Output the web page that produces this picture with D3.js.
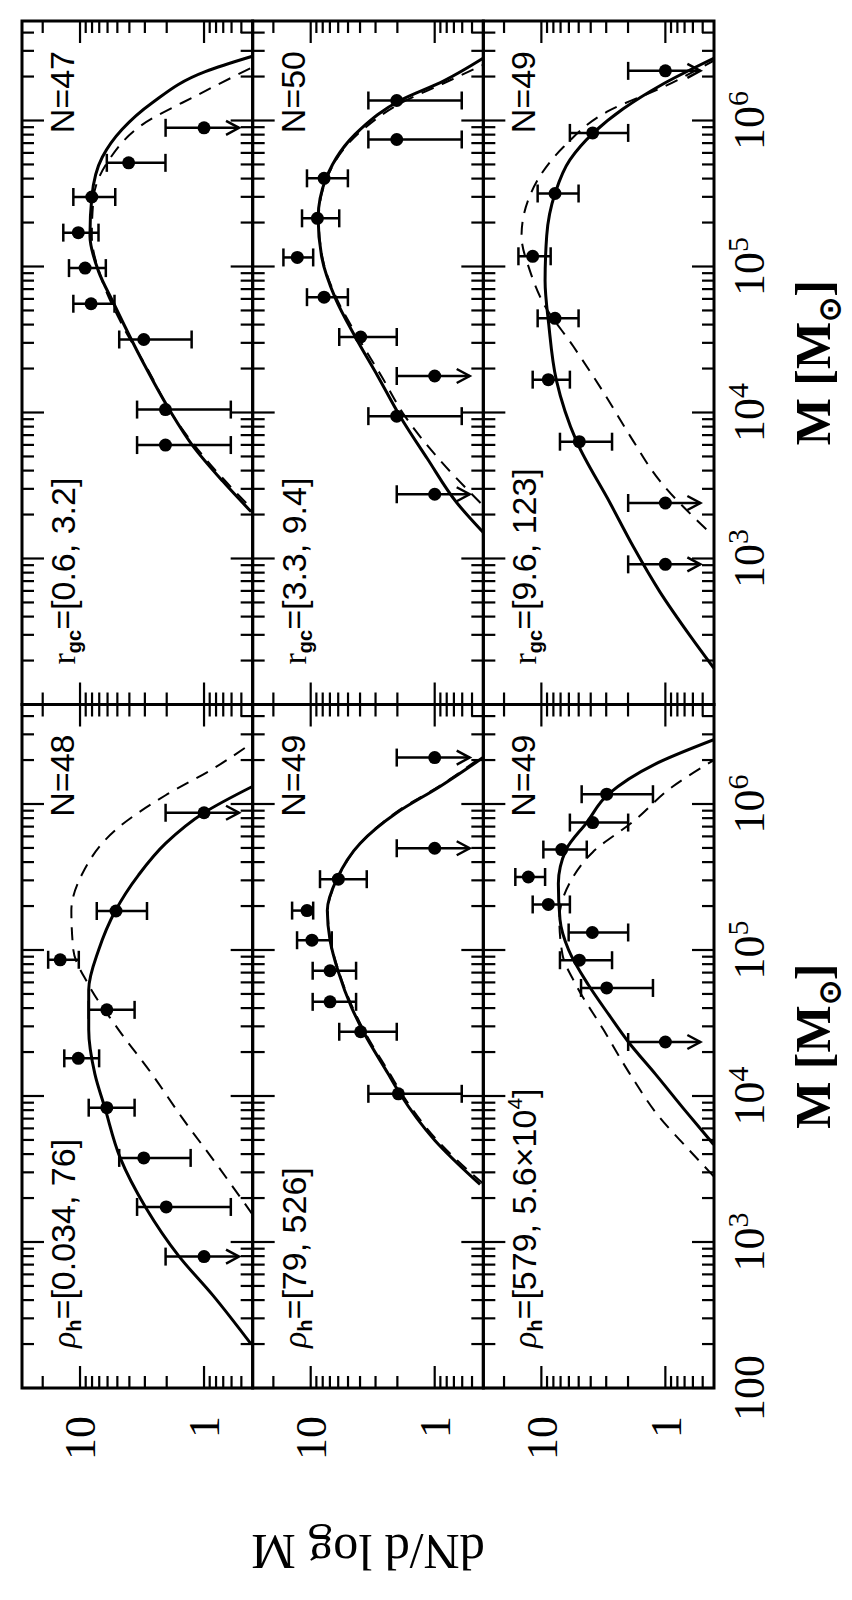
<!DOCTYPE html>
<html><head><meta charset="utf-8">
<script src="https://cdn.jsdelivr.net/npm/d3@7"></script>
<style>body{margin:0;background:#fff}</style>
</head><body>
<svg id="c" width="852" height="1600"></svg>
<script>
// ---- data (log10 M, log10 dN/dlogM) ----
// points: [logM, logVal, logLo, logHi, upperLimit]
const ptsRho1 = [[5.94,0,0.31,null,1],[5.267,0.71,0.46,0.865,0],[4.933,1.16,1.01,1.257,0],[4.59,0.784,0.56,0.93,0],[4.258,1.014,0.846,1.127,0],[3.92,0.784,0.56,0.93,0],[3.576,0.486,0.108,0.684,0],[3.24,0.305,-0.216,0.54,0],[2.90,0,0.31,null,1]];
const solidRho1 = [[6.12,-0.39],[5.94,0],[5.73,0.31],[5.515,0.527],[5.267,0.716],[5.0,0.85],[4.727,0.93],[4.455,0.93],[4.15,0.88],[3.92,0.80],[3.576,0.676],[3.24,0.473],[2.90,0.20],[2.636,-0.07],[2.30,-0.38]];
const dashRho1 = [[6.42,-0.39],[6.24,-0.07],[6.06,0.31],[5.82,0.716],[5.515,0.986],[5.27,1.07],[5.0,1.054],[4.76,0.93],[4.455,0.69],[4.15,0.42],[3.85,0.176],[3.545,-0.09],[3.19,-0.39]];

const ptsRho2 = [[6.318,0,0.306,null,1],[5.697,0,0.306,null,1],[5.485,0.777,0.548,0.925,0],[5.27,1.03,0.98,1.15,0],[5.067,0.99,0.83,1.11,0],[4.858,0.844,0.634,0.984,0],[4.645,0.844,0.634,0.984,0],[4.44,0.597,0.306,0.77,0],[4.015,0.293,-0.218,0.535,0]];
const solidRho2 = [[6.318,-0.39],[6.12,-0.043],[5.94,0.306],[5.73,0.602],[5.485,0.79],[5.27,0.866],[5.067,0.844],[4.85,0.777],[4.606,0.67],[4.44,0.575],[4.15,0.374],[4.015,0.28],[3.697,0.0],[3.394,-0.366]];
const dashRho2 = [[6.33,-0.39],[6.13,-0.05],[5.95,0.30],[5.73,0.60],[5.485,0.785],[5.27,0.862],[5.067,0.842],[4.85,0.772],[4.606,0.662],[4.44,0.565],[4.15,0.36],[4.015,0.265],[3.697,-0.02],[3.40,-0.39]];

const ptsRho3 = [[6.067,0.473,0.10,0.675,0],[5.873,0.586,0.30,0.77,0],[5.688,0.836,0.634,0.984,0],[5.50,1.105,0.97,1.21,0],[5.312,0.944,0.77,1.07,0],[5.12,0.589,0.30,0.78,0],[4.93,0.694,0.43,0.85,0],[4.74,0.473,0.10,0.68,0],[4.37,0,0.30,null,1]];
const solidRho3 = [[6.44,-0.39],[6.27,0.09],[6.067,0.46],[5.873,0.634],[5.688,0.80],[5.455,0.863],[5.21,0.85],[5.0,0.78],[4.76,0.62],[4.55,0.45],[4.37,0.298],[4.15,0.08],[3.9,-0.16],[3.667,-0.39]];
const dashRho3 = [[6.30,-0.39],[6.12,-0.06],[5.88,0.26],[5.67,0.586],[5.455,0.774],[5.21,0.855],[4.97,0.83],[4.76,0.72],[4.455,0.5],[4.15,0.285],[3.85,0.043],[3.65,-0.17],[3.45,-0.39]];

const ptsRgc1 = [[5.95,0,0.31,null,1],[5.71,0.608,0.311,0.784,0],[5.476,0.905,0.716,1.054,0],[5.232,1.014,0.851,1.135,0],[4.989,0.959,0.792,1.089,0],[4.745,0.911,0.722,1.054,0],[4.50,0.486,0.100,0.684,0],[4.02,0.311,-0.216,0.54,0],[3.777,0.311,-0.216,0.54,0]];
const solidRgc1 = [[6.44,-0.39],[6.335,-0.01],[6.12,0.42],[5.94,0.66],[5.75,0.82],[5.476,0.905],[5.21,0.92],[4.965,0.85],[4.75,0.73],[4.49,0.58],[4.325,0.48],[4.02,0.28],[3.777,0.095],[3.53,-0.15],[3.32,-0.38]];
const dashRgc1 = [[6.365,-0.39],[6.18,0.04],[5.97,0.5],[5.726,0.77],[5.476,0.89],[5.21,0.905],[4.90,0.82],[4.60,0.66],[4.29,0.45],[3.99,0.26],[3.685,-0.01],[3.38,-0.34]];

const ptsRgc2 = [[6.137,0.306,-0.218,0.535,0],[5.87,0.306,-0.218,0.535,0],[5.604,0.892,0.70,1.03,0],[5.33,0.946,0.77,1.07,0],[5.062,1.108,0.98,1.22,0],[4.79,0.892,0.70,1.03,0],[4.517,0.597,0.306,0.77,0],[4.25,0,0.306,null,1],[3.975,0.306,-0.218,0.535,0],[3.44,0,0.306,null,1]];
const solidRgc2 = [[6.426,-0.39],[6.27,-0.07],[6.137,0.28],[5.94,0.60],[5.604,0.876],[5.33,0.94],[5.06,0.91],[4.78,0.80],[4.517,0.64],[4.25,0.46],[3.975,0.28],[3.685,0.06],[3.38,-0.18],[3.18,-0.39]];
const dashRgc2 = [[6.38,-0.39],[6.25,-0.06],[6.12,0.27],[5.93,0.59],[5.604,0.87],[5.33,0.935],[5.06,0.905],[4.78,0.79],[4.517,0.62],[4.25,0.43],[3.975,0.24],[3.685,-0.03],[3.38,-0.37]];

const ptsRgc3 = [[6.34,0,0.30,null,1],[5.915,0.586,0.30,0.77,0],[5.50,0.89,0.70,1.03,0],[5.07,1.07,0.925,1.185,0],[4.645,0.89,0.70,1.03,0],[4.225,0.944,0.77,1.07,0],[3.80,0.694,0.43,0.85,0],[3.38,0,0.30,null,1],[2.96,0,0.30,null,1]];
const solidRgc3 = [[6.426,-0.39],[6.24,0.04],[6.08,0.34],[5.915,0.58],[5.73,0.77],[5.50,0.89],[5.21,0.957],[4.90,0.97],[4.6,0.94],[4.225,0.88],[3.80,0.715],[3.38,0.446],[3.08,0.258],[2.77,0.043],[2.47,-0.2],[2.25,-0.39]];
const dashRgc3 = [[6.41,-0.39],[6.24,-0.01],[6.06,0.47],[5.82,0.82],[5.51,1.08],[5.21,1.16],[4.965,1.09],[4.75,0.985],[4.45,0.74],[4.14,0.5],[3.84,0.285],[3.53,0.043],[3.2,-0.33]];

const nLabels = [[48,49,49],[47,50,49]];
const rhoRanges = ["[0.034, 76]","[79, 526]","[579, 5.6×10|4|]"];
const rgcRanges = ["[0.6, 3.2]","[3.3, 9.4]","[9.6, 123]"];
const massTickExps = [[2,3,4,5,6],[3,4,5,6]];
const yTickLabels = [[1,"10"],[0,"1"]];

const panels = [
 {c:0,r:0,pts:ptsRho1,solid:solidRho1,dash:dashRho1},
 {c:0,r:1,pts:ptsRho2,solid:solidRho2,dash:dashRho2},
 {c:0,r:2,pts:ptsRho3,solid:solidRho3,dash:dashRho3},
 {c:1,r:0,pts:ptsRgc1,solid:solidRgc1,dash:dashRgc1},
 {c:1,r:1,pts:ptsRgc2,solid:solidRgc2,dash:dashRgc2},
 {c:1,r:2,pts:ptsRgc3,solid:solidRgc3,dash:dashRgc3}];

// ---- layout ----
const W=1367, H=692, colW=W/2, rowH=H/3, decX=146, decY=124, yTop=1.468;
const svg=d3.select("#c");
svg.append("rect").attr("width",852).attr("height",1600).attr("fill","#fff");
const g=svg.append("g").attr("transform","translate(22,1388) rotate(-90)");
const serif="'Liberation Serif','Times New Roman',serif", sans="'Liberation Sans',Arial,sans-serif";
const defs=svg.append("defs");

panels.forEach((p,i)=>{
  const x=d3.scaleLinear().domain([2,2+colW/decX]).range([p.c*colW,(p.c+1)*colW]);
  const y=d3.scaleLinear().domain([yTop,yTop-rowH/decY]).range([p.r*rowH,(p.r+1)*rowH]);
  const x0=p.c*colW,x1=x0+colW,y0=p.r*rowH,y1=y0+rowH;
  defs.append("clipPath").attr("id","cp"+i).append("rect").attr("x",x0).attr("y",y0).attr("width",colW).attr("height",rowH);
  const pg=g.append("g");
  const tk=pg.append("g").attr("stroke","#000").attr("stroke-width",2.2);
  for(let d=2;d<=6;d++)for(let k=1;k<=9;k++){
    const lm=d+Math.log10(k); if(lm<2||lm>x.domain()[1])continue;
    const L=k===1?22:12, xx=x(lm);
    tk.append("line").attr("x1",xx).attr("x2",xx).attr("y1",y0).attr("y2",y0+L);
    tk.append("line").attr("x1",xx).attr("x2",xx).attr("y1",y1).attr("y2",y1-L);
  }
  for(let e=-1;e<=1;e++)for(let k=1;k<=9;k++){
    const lv=e+Math.log10(k); if(lv>yTop||lv<y.domain()[1])continue;
    const L=k===1?22:12, yy=y(lv);
    tk.append("line").attr("y1",yy).attr("y2",yy).attr("x1",x0).attr("x2",x0+L);
    tk.append("line").attr("y1",yy).attr("y2",yy).attr("x1",x1).attr("x2",x1-L);
  }
  pg.append("rect").attr("x",x0).attr("y",y0).attr("width",colW).attr("height",rowH).attr("fill","none").attr("stroke","#000").attr("stroke-width",3);
  const line=d3.line().x(d=>x(d[0])).y(d=>y(d[1])).curve(d3.curveMonotoneX);
  const cg=pg.append("g").attr("clip-path","url(#cp"+i+")").attr("fill","none").attr("stroke","#000");
  const asc=a=>a.slice().sort((m,n)=>m[0]-n[0]);
  cg.append("path").attr("d",line(asc(p.dash))).attr("stroke-width",2).attr("stroke-dasharray","13,9");
  cg.append("path").attr("d",line(asc(p.solid))).attr("stroke-width",3);
  const eg=pg.append("g").attr("stroke","#000").attr("stroke-width",2.5);
  p.pts.forEach(d=>{
    const xx=x(d[0]),yy=y(d[1]),cap=9;
    if(d[4]){
      eg.append("line").attr("x1",xx).attr("x2",xx).attr("y1",y(d[2])).attr("y2",yy);
      eg.append("line").attr("x1",xx-cap).attr("x2",xx+cap).attr("y1",y(d[2])).attr("y2",y(d[2]));
      const ye=yy+35;
      eg.append("line").attr("x1",xx).attr("x2",xx).attr("y1",yy).attr("y2",ye);
      eg.append("path").attr("fill","none").attr("d",`M${xx-7},${ye-13}L${xx},${ye}L${xx+7},${ye-13}`);
    } else {
      eg.append("line").attr("x1",xx).attr("x2",xx).attr("y1",y(d[3])).attr("y2",y(d[2]));
      [d[2],d[3]].forEach(v=>eg.append("line").attr("x1",xx-cap).attr("x2",xx+cap).attr("y1",y(v)).attr("y2",y(v)));
    }
    pg.append("circle").attr("cx",xx).attr("cy",yy).attr("r",6.5).attr("fill","#000");
  });
  pg.append("text").attr("x",x1-30).attr("y",y0+52).attr("text-anchor","end")
    .attr("font-family",sans).attr("font-size",34).text("N="+nLabels[p.c][p.r]);
  const t=pg.append("text").attr("x",x0+40).attr("y",y0+53).attr("font-family",sans).attr("font-size",34);
  if(p.c===0){
    t.append("tspan").attr("font-family",serif).attr("font-style","italic").text("ρ");
    t.append("tspan").attr("font-size",20).attr("font-weight","bold").attr("dy",6).text("h");
    const parts=rhoRanges[p.r].split("|");
    t.append("tspan").attr("dy",-6).text("="+parts[0]);
    if(parts.length>1){
      t.append("tspan").attr("font-size",21).attr("dy",-14).text(parts[1]);
      t.append("tspan").attr("dy",14).text(parts[2]);
    }
  } else {
    t.append("tspan").attr("font-family",serif).text("r");
    t.append("tspan").attr("font-size",20).attr("font-weight","bold").attr("dy",6).text("gc");
    t.append("tspan").attr("dy",-6).text("="+rgcRanges[p.r]);
  }
});

massTickExps.forEach((exps,c)=>{
  const x=d3.scaleLinear().domain([2,2+colW/decX]).range([c*colW,(c+1)*colW]);
  exps.forEach(e=>{
    const t=g.append("text").attr("x",x(e)).attr("y",H+50).attr("text-anchor","middle")
      .attr("font-family",serif).attr("font-size",44);
    if(e===2) t.text("100");
    else { t.append("tspan").text("10"); t.append("tspan").attr("font-size",30).attr("dy",-16).text(e); }
  });
  const tt=g.append("text").attr("x",(c+0.5)*colW).attr("y",H+116).attr("text-anchor","middle")
    .attr("font-family",serif).attr("font-size",50).attr("font-weight","bold");
  tt.append("tspan").text("M [M");
  tt.append("tspan").attr("font-size",30).attr("dy",10).text("⊙");
  tt.append("tspan").attr("dy",-10).text("]");
});
for(let r=0;r<3;r++){
  const y=d3.scaleLinear().domain([yTop,yTop-rowH/decY]).range([r*rowH,(r+1)*rowH]);
  yTickLabels.forEach(([v,s])=>{
    g.append("text").attr("x",-28).attr("y",y(v)).attr("dy","0.35em").attr("text-anchor","end")
      .attr("font-family",serif).attr("font-size",44).text(s);
  });
}
g.append("text").attr("transform",`translate(-147,${H/2}) rotate(-90)`).attr("text-anchor","middle")
  .attr("font-family",serif).attr("font-size",50).text("dN/d log M");
</script>
</body></html>
